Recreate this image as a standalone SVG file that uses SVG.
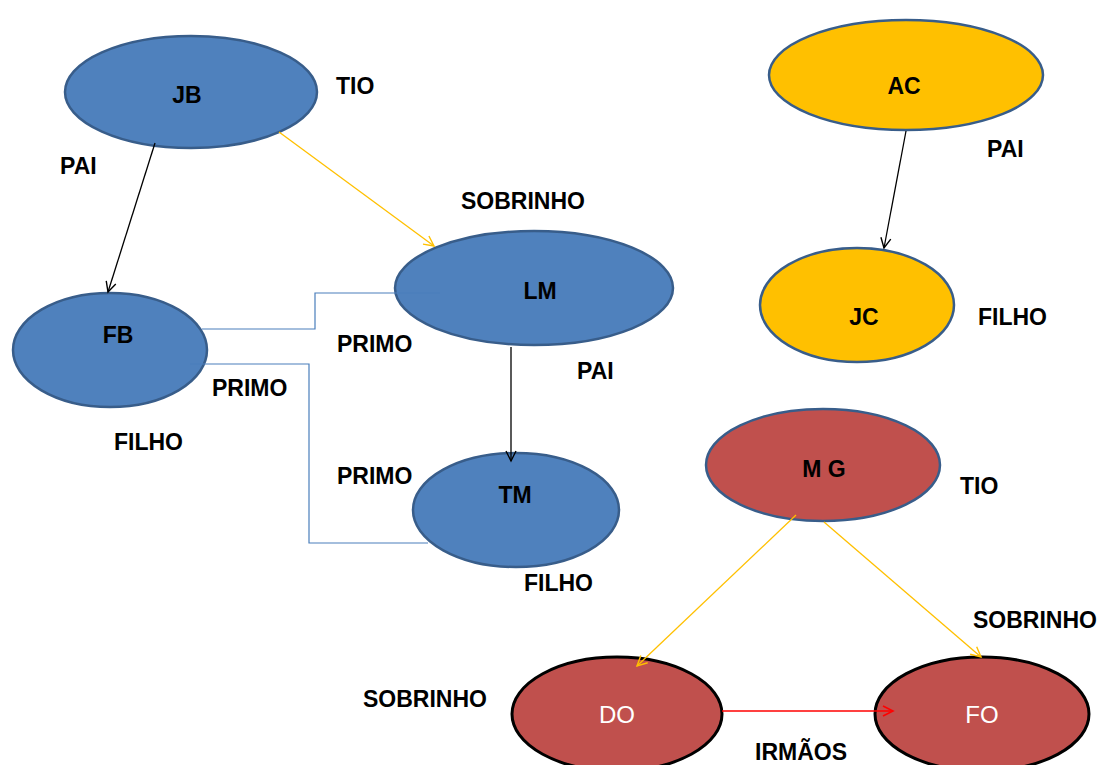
<svg xmlns="http://www.w3.org/2000/svg" width="1103" height="765" viewBox="0 0 1103 765">
<style>
.blue{fill:#4F81BD;stroke:#385D8A;stroke-width:2.5}
.yel{fill:#FFC000;stroke:#385D8A;stroke-width:2.5}
.redb{fill:#C0504D;stroke:#385D8A;stroke-width:2.5}
.redk{fill:#C0504D;stroke:#000;stroke-width:3}
text{font-family:"Liberation Sans",Arial,sans-serif;font-weight:bold;font-size:23px;fill:#000}
.c{text-anchor:middle}
.w{fill:#fff;font-weight:normal;font-size:24px}
.ln{fill:none;stroke-width:1.3}
.k{stroke:#000}
.y{stroke:#FFC000}
.r{stroke:#FF0000;stroke-width:1.6}
.el{fill:none;stroke:#4A7EBB;stroke-width:1.2}
</style>
<defs>
<marker id="ak" markerUnits="userSpaceOnUse" markerWidth="14" markerHeight="14" refX="11" refY="6" orient="auto"><path d="M1,1 L11,6 L1,11" fill="none" stroke="#000" stroke-width="1.4"/></marker>
<marker id="ay" markerUnits="userSpaceOnUse" markerWidth="14" markerHeight="14" refX="11" refY="6" orient="auto"><path d="M1,1 L11,6 L1,11" fill="none" stroke="#FFC000" stroke-width="1.4"/></marker>
<marker id="ar" markerUnits="userSpaceOnUse" markerWidth="14" markerHeight="14" refX="11" refY="6" orient="auto"><path d="M1,1 L11,6 L1,11" fill="none" stroke="#FF0000" stroke-width="1.6"/></marker>
</defs>
<rect width="1103" height="765" fill="#fff"/>
<g id="JB"><ellipse class="blue" cx="191" cy="92" rx="126" ry="56"/><text class="c" x="187" y="103">JB</text></g>
<g id="FB"><ellipse class="blue" cx="110" cy="350" rx="97" ry="57"/><text class="c" x="118" y="343">FB</text></g>
<g id="LM"><ellipse class="blue" cx="534" cy="288" rx="139" ry="57"/><text class="c" x="540" y="299">LM</text></g>
<g id="TM"><ellipse class="blue" cx="516" cy="510" rx="103" ry="57"/><text class="c" x="515" y="503">TM</text></g>
<g id="AC"><ellipse class="yel" cx="906" cy="75" rx="137" ry="55"/><text class="c" x="904" y="94">AC</text></g>
<g id="JC"><ellipse class="yel" cx="857" cy="305" rx="97" ry="57"/><text class="c" x="864" y="325">JC</text></g>
<g id="MG"><ellipse class="redb" cx="823" cy="465" rx="117" ry="56"/><text class="c" x="824" y="477">M G</text></g>
<g id="DO"><ellipse class="redk" cx="617" cy="714" rx="105" ry="57"/><text class="c w" x="617" y="723">DO</text></g>
<g id="FO"><ellipse class="redk" cx="982" cy="714" rx="107" ry="57"/><text class="c w" x="982" y="723">FO</text></g>
<g id="connectors">
<line class="ln k" x1="155" y1="143" x2="108" y2="292" marker-end="url(#ak)"/>
<line class="ln y" x1="279" y1="132" x2="434" y2="246" marker-end="url(#ay)"/>
<line class="ln k" x1="511" y1="347" x2="511" y2="461" marker-end="url(#ak)"/>
<line class="ln k" x1="906" y1="131" x2="884" y2="248" marker-end="url(#ak)"/>
<line class="ln y" x1="796" y1="515" x2="637" y2="666" marker-end="url(#ay)"/>
<line class="ln y" x1="824" y1="522" x2="981" y2="657" marker-end="url(#ay)"/>
<line class="ln r" x1="722" y1="711" x2="893" y2="711" marker-end="url(#ar)"/>
<polyline class="el" points="202,329 315,329 315,293 440,293"/>
<polyline class="el" points="190,364 309,364 309,543 428,543"/>
</g>
<g id="labels">
<text x="336" y="94">TIO</text>
<text x="60" y="174">PAI</text>
<text x="461" y="209">SOBRINHO</text>
<text x="337" y="352">PRIMO</text>
<text x="212" y="396">PRIMO</text>
<text x="114" y="450">FILHO</text>
<text x="337" y="484">PRIMO</text>
<text x="577" y="379">PAI</text>
<text x="524" y="591">FILHO</text>
<text x="987" y="157">PAI</text>
<text x="978" y="325">FILHO</text>
<text x="960" y="494">TIO</text>
<text x="973" y="628">SOBRINHO</text>
<text x="363" y="707">SOBRINHO</text>
<text x="755" y="760">IRMÃOS</text>
</g>
</svg>
